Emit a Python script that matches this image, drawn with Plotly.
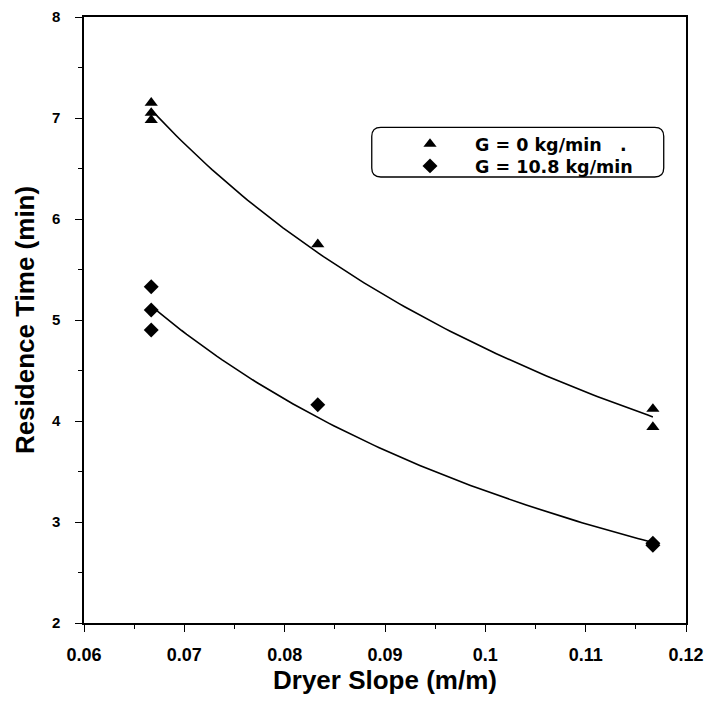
import numpy as np
import plotly.graph_objects as go

# Data
slope_g0 = [0.0667, 0.0667, 0.0667, 0.0833, 0.1167, 0.1167]
time_g0 = [7.15, 7.05, 6.98, 5.75, 4.12, 3.94]
slope_g108 = [0.0667, 0.0667, 0.0667, 0.0833, 0.1167, 0.1167]
time_g108 = [5.33, 5.10, 4.90, 4.16, 2.79, 2.77]
names = ["G = 0 kg/min   .", "G = 10.8 kg/min"]
x_ticks = [0.06, 0.07, 0.08, 0.09, 0.1, 0.11, 0.12]
x_labels = ["0.06", "0.07", "0.08", "0.09", "0.1", "0.11", "0.12"]
y_ticks = [2, 3, 4, 5, 6, 7, 8]


def power_fit(xs, ys):
    b, a = np.polyfit(np.log(xs), np.log(ys), 1)
    xf = np.linspace(min(xs), max(xs), 100)
    return xf, np.exp(a) * xf ** b


font_fam = "Liberation Sans, Arial, sans-serif"
fig = go.Figure()
for xs, ys, sym, nm, lg in [(slope_g0, time_g0, "triangle-up", names[0], "legend"),
                             (slope_g108, time_g108, "diamond", names[1], "legend2")]:
    xf, yf = power_fit(xs, ys)
    fig.add_trace(go.Scatter(x=xf, y=yf, mode="lines", line=dict(color="black", width=1.6),
                             showlegend=False, hoverinfo="skip"))
    fig.add_trace(go.Scatter(x=xs, y=ys, mode="markers", name=nm, legend=lg,
                             marker=dict(symbol=sym, size=11.5, color="black")))

axis_common = dict(showline=True, linecolor="black", linewidth=1.5, mirror=True,
                   showgrid=False, zeroline=False, ticks="outside", ticklen=7,
                   tickcolor="black", tickwidth=1.2, automargin=False)
fig.update_xaxes(range=[0.06, 0.12], tickvals=x_ticks, ticktext=x_labels,
                 tickfont=dict(family=font_fam, size=18, color="black", weight="bold"),
                 ticklabelstandoff=8,
                 minor=dict(dtick=0.005, ticks="outside", ticklen=4, tickcolor="black"),
                 title=dict(text="Dryer Slope (m/m)",
                            font=dict(family=font_fam, size=26, color="black", weight="bold"),
                            standoff=5),
                 **axis_common)
fig.update_yaxes(range=[2, 8], tickvals=y_ticks,
                 tickfont=dict(family=font_fam, size=15, color="black", weight="bold"),
                 ticklabelstandoff=12,
                 minor=dict(dtick=0.5, ticks="outside", ticklen=4, tickcolor="black"),
                 title=dict(text="Residence Time (min)",
                            font=dict(family=font_fam, size=26, color="black", weight="bold"),
                            standoff=10),
                 **axis_common)

# rounded legend box
x0, x1, y0, y1, r = 0.478, 0.963, 0.736, 0.818, 0.015
ry = r * 602 / 606
fig.add_shape(type="path", xref="paper", yref="paper",
              path=(f"M {x0+r},{y1} L {x1-r},{y1} Q {x1},{y1} {x1},{y1-ry} "
                    f"L {x1},{y0+ry} Q {x1},{y0} {x1-r},{y0} L {x0+r},{y0} "
                    f"Q {x0},{y0} {x0},{y0+ry} L {x0},{y1-ry} Q {x0},{y1} {x0+r},{y1} Z"),
              line=dict(color="black", width=1.3))

legend_common = dict(xanchor="left", yanchor="middle", bgcolor="rgba(0,0,0,0)",
                     borderwidth=0, itemwidth=80, itemsizing="trace",
                     font=dict(family="DejaVu Sans, sans-serif", size=17.5, color="black",
                               weight="bold"))
fig.update_layout(
    width=709, height=701,
    margin=dict(l=84, r=23, t=17, b=78),
    plot_bgcolor="white", paper_bgcolor="white",
    font=dict(family=font_fam, color="black"),
    legend=dict(x=0.500, y=0.7904, **legend_common),
    legend2=dict(x=0.500, y=0.7541, **legend_common),
)
fig.write_html("out.html", config={"displayModeBar": False},
               post_script="document.body.style.margin='0';document.body.style.overflow='hidden';")
